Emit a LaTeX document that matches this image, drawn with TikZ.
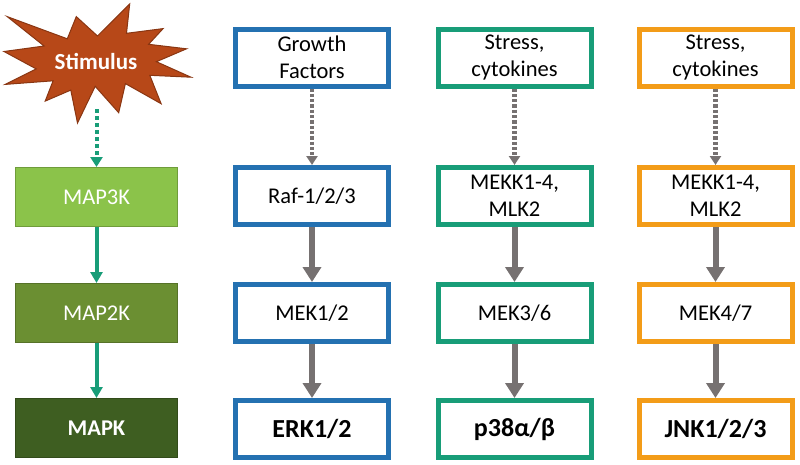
\documentclass[tikz,border=0pt]{standalone}
\usepackage{fontspec}
\setmainfont{Carlito}
\usepackage{xcolor}
\usetikzlibrary{arrows.meta}
\definecolor{myblue}{RGB}{36,113,177}
\definecolor{myteal}{RGB}{24,157,120}
\definecolor{myorange}{RGB}{243,156,24}
\definecolor{mygrey}{RGB}{118,113,113}
\definecolor{mystim}{RGB}{183,72,24}
\definecolor{mygreenA}{RGB}{139,195,74}
\definecolor{mygreenB}{RGB}{107,143,50}
\definecolor{mygreenC}{RGB}{62,94,33}
\tikzset{
	>=latex, % default arrow head
	txt/.style={font=\fontsize{22.5}{27}\selectfont},
	txt big/.style={font=\fontsize{26}{30}\selectfont\bfseries},
	box/.style={txt,draw,line width=5,fill=white,minimum width=153,minimum height=57,inner sep=0,align=center},
	box 1/.style={box,draw=myblue}, % box styles, numbered per column
	box 2/.style={box,draw=myteal},
	box 3/.style={box,draw=myorange},
	kinase/.style={txt,draw,line width=1,text=white,minimum width=162,minimum height=59,inner sep=0},
	connect/.style={mygrey,line width=6,-{Triangle[length=15,width=18]}},
	connect dot/.style={mygrey,line width=4.5,dash pattern=on 3.3 off 2,-{Triangle[length=9,width=11]}},
	connect green/.style={myteal,line width=4,-{Triangle[length=11,width=12]}},
	stimulus/.style={fill=mystim,draw=mystim!75!black,line width=1}
}

\begin{document}
\begin{tikzpicture}[x=1pt,y=-1pt]
  \useasboundingbox (0,0) rectangle (800,464);
  \def\yA{57.5} % row centres
  \def\yB{196}
  \def\yC{313}
  \def\yD{429}
  
  % STIMULUS
  \draw[stimulus] (97.5,36) -- (129.7,4) -- (126.5,33.3) -- (163.1,28.6) -- (148.6,44.3)
    -- (186.6,48.8) -- (156.4,61.7) -- (191,77.2) -- (149.8,75.3) -- (161.1,103.7)
    -- (125.4,83.6) -- (118.7,112.7) -- (95.2,86.3) -- (77.5,123) -- (70.8,90.1)
    -- (45.2,101.1) -- (53.1,80.8) -- (5.2,84.4) -- (36.2,68.9) -- (4,51.5)
    -- (44.1,46) -- (7.2,16.6) -- (67.3,38.8) -- (76.3,16.6) -- cycle;
  \node[txt,text=white,font=\fontsize{23}{27}\selectfont\bfseries] (stim) at (96,61) {Stimulus};
  \coordinate (stim-out) at (96.5,109);
  
  % KINASE LEVELS
  \node[kinase,fill=mygreenA,draw=mygreenA!80!black] (K-1) at (96.5,197) {MAP3K};
  \node[kinase,fill=mygreenB,draw=mygreenB!80!black] (K-2) at (96.5,313) {MAP2K};
  \node[kinase,fill=mygreenC,draw=mygreenC!80!black,font=\fontsize{22.5}{27}\selectfont\bfseries] (K-3) at (96.5,428) {MAPK};
  \draw[connect dot,myteal,line width=4,dash pattern=on 3.5 off 3.5,-{Triangle[length=10,width=12]}] (stim-out) -- (K-1);
  \foreach \i [evaluate={\j=int(\i+1);}] in {1,2}{
    \draw[connect green] (K-\i) -- (K-\j);
  }
  
  % ERK PATHWAY
  \node[box 1] (C1-1) at (312,\yA) {Growth\\Factors};
  \node[box 1] (C1-2) at (312,\yB) {Raf-1/2/3};
  \node[box 1] (C1-3) at (312,\yC) {MEK1/2};
  \node[box 1,txt big] (C1-4) at (312,\yD) {ERK1/2};
  
  % P38 PATHWAY
  \node[box 2] (C2-1) at (514.5,\yA) {Stress,\\cytokines};
  \node[box 2] (C2-2) at (514.5,\yB) {MEKK1-4,\\MLK2};
  \node[box 2] (C2-3) at (514.5,\yC) {MEK3/6};
  \node[box 2,txt big] (C2-4) at (514.5,\yD) {p38α/β};
  
  % JNK PATHWAY
  \node[box 3] (C3-1) at (715.5,\yA) {Stress,\\cytokines};
  \node[box 3] (C3-2) at (715.5,\yB) {MEKK1-4,\\MLK2};
  \node[box 3] (C3-3) at (715.5,\yC) {MEK4/7};
  \node[box 3,txt big] (C3-4) at (715.5,\yD) {JNK1/2/3};
  
  % CONNECTIONS
  \foreach \c in {1,2,3}{ % loop over columns
    \draw[connect dot] (C\c-1) -- (C\c-2);
    \draw[connect] (C\c-2) -- (C\c-3);
    \draw[connect] (C\c-3) -- (C\c-4);
  }
  
\end{tikzpicture}
\end{document}
